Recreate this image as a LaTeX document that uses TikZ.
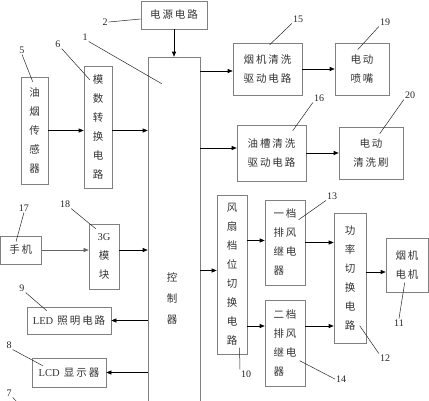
\documentclass[tikz,border=0pt]{standalone}
\usepackage{fontspec}
\setmainfont{Liberation Serif}
\newfontfamily\cjk[LetterSpace=18]{Noto Sans CJK SC}
\usetikzlibrary{arrows.meta}
\newcommand\lat[1]{{\rmfamily #1}}
\tikzset{
	blk/.style={draw=black!50, line width=0.6pt, inner sep=0pt, align=center, text=black!80, font=\cjk\fontsize{10.5}{19}\selectfont},
	num/.style={inner sep=1pt, text=black!85, font=\fontsize{10}{12}\selectfont},
	lead/.style={line width=0.5pt, color=black!85},
	arr/.style={-{Triangle[length=5pt,width=4pt]}, line width=0.6pt, color=black},
	thinarr/.style={-{Triangle[length=5pt,width=4pt]}, line width=0.4pt, color=black!60}
}

\begin{document}
\begin{tikzpicture}[x=1pt, y=-1pt]
			%%%%% START %%%%%
			\useasboundingbox (0, 0) rectangle (429, 400);
			
			% controller and supply
			\node[blk, minimum width=52, minimum height=363] (c1) at (174, 238.5) {};
			\node[blk, draw=none, font=\cjk\fontsize{10.5}{21}\selectfont] (c1t) at (172, 298) {控\\制\\器};
			\node[blk, minimum width=66, minimum height=28] (p2) at (174, 15) {电源电路};
			
			% left side
			\node[blk, minimum width=27, minimum height=107] (s5) at (34.5, 130.5) {油\\烟\\传\\感\\器};
			\node[blk, minimum width=28, minimum height=122] (a6) at (98, 127) {模\\数\\转\\换\\电\\路};
			\node[blk, minimum width=41, minimum height=28] (m17) at (20.8, 250) {手机};
			\node[blk, minimum width=30, minimum height=65] (g18) at (104, 256.5) {\lat{3G}\\模\\块};
			\node[blk, minimum width=84, minimum height=27] (l9) at (69, 320.5) {\lat{LED} 照明电路};
			\node[blk, minimum width=74, minimum height=29] (l8) at (69, 372.5) {\lat{LCD} 显示器};
			
			% right side, top
			\node[blk, minimum width=69, minimum height=52] (d15) at (267.5, 69) {烟机清洗\\驱动电路};
			\node[blk, minimum width=54, minimum height=52] (z19) at (362, 69) {电动\\喷嘴};
			\node[blk, minimum width=69, minimum height=56] (d16) at (271.5, 153) {油槽清洗\\驱动电路};
			\node[blk, minimum width=64, minimum height=52] (b20) at (371, 153) {电动\\清洗刷};
			
			% right side, fan
			\node[blk, minimum width=30, minimum height=159] (f10) at (232, 274.5) {风\\扇\\档\\位\\切\\换\\电\\路};
			\node[blk, align=left, minimum width=40, minimum height=85] (r13) at (285, 242.5) {一档\\排风\\继电\\器};
			\node[blk, align=left, minimum width=40, minimum height=86] (r14) at (285, 343) {二档\\排风\\继电\\器};
			\node[blk, minimum width=32, minimum height=130] (w12) at (350, 278) {功\\率\\切\\换\\电\\路};
			\node[blk, minimum width=42, minimum height=54] (e11) at (407, 265) {烟机\\电机};
			
			% arrows
			\draw[arr] (p2.south) -- (p2.south |- c1.north);
			\draw[arr] (s5.east) -- (s5.east -| a6.west);
			\draw[arr] (s5.east -| a6.east) -- (s5.east -| c1.west);
			\draw[thinarr] (m17.east) -- (m17.east -| g18.west);
			\draw[arr] (m17.east -| g18.east) -- (m17.east -| c1.west);
			\draw[arr] (l9.east -| c1.west) -- (l9.east);
			\draw[arr] (l8.east -| c1.west) -- (l8.east);
			
			\draw[arr] ([yshift=-2pt]d15.west -| c1.east) -- ([yshift=-2pt]d15.west);
			\draw[arr] (d15.east) -- (d15.east -| z19.west);
			\draw[arr] ([yshift=5pt]d16.west -| c1.east) -- ([yshift=5pt]d16.west);
			\draw[arr] (d16.east) -- (d16.east -| b20.west);
			
			\draw[arr] ([yshift=4pt]f10.west -| c1.east) -- ([yshift=4pt]f10.west);
			\draw[arr] ([yshift=2pt]r13.west -| f10.east) -- ([yshift=2pt]r13.west);
			\draw[arr] ([yshift=17pt]r14.west -| f10.east) -- ([yshift=17pt]r14.west);
			\draw[arr] (r13.east) -- (r13.east -| w12.west);
			\draw[arr] ([yshift=17pt]r14.east) -- ([yshift=17pt]r14.east -| w12.west);
			\draw[arr] ([yshift=-7pt]e11.west -| w12.east) -- ([yshift=-7pt]e11.west);
			
			% numbers
			\node[num] (n1) at (85, 37) {1};
			\node[num] (n2) at (105, 22) {2};
			\node[num] (n5) at (22, 50) {5};
			\node[num] (n6) at (58, 44) {6};
			\node[num] (n7) at (9, 393) {7};
			\node[num] (n8) at (9, 345) {8};
			\node[num] (n9) at (22, 288) {9};
			\node[num] (n10) at (246, 374) {10};
			\node[num] (n11) at (399, 323) {11};
			\node[num] (n12) at (385, 358) {12};
			\node[num] (n13) at (332, 196) {13};
			\node[num] (n14) at (341, 379) {14};
			\node[num] (n15) at (298, 19) {15};
			\node[num] (n16) at (319, 98) {16};
			\node[num] (n17) at (24, 208) {17};
			\node[num] (n18) at (65, 204) {18};
			\node[num] (n19) at (385, 22) {19};
			\node[num] (n20) at (410, 95) {20};
			\coordinate (e7) at (19, 404);
			
			% leaders
			\draw[lead] (n1.south east) -- ([shift={(14,27)}]c1.north west);
			\draw[lead] (n2.east) -- ([yshift=-4pt]p2.west);
			\draw[lead] (n5.south) -- ([shift={(12,5)}]s5.north west);
			\draw[lead] (n6.south east) -- ([shift={(6,14)}]a6.north west);
			\draw[lead] (n7.south east) -- (e7);
			\draw[lead] (n8.south east) -- ([shift={(11,8)}]l8.north west);
			\draw[lead] (n9.south east) -- ([shift={(20,4)}]l9.north west);
			\draw[lead] (n10.north west) -- ([shift={(23,153)}]f10.north west);
			\draw[lead] (n11.north) -- ([shift={(19,45)}]e11.north west);
			\draw[lead] (n12.north west) -- ([shift={(26,113)}]w12.north west);
			\draw[lead] (n13.south west) -- ([shift={(34,20)}]r13.north west);
			\draw[lead] (n14.west) -- ([shift={(35,61)}]r14.north west);
			\draw[lead] (n15.south west) -- ([shift={(37,2)}]d15.north west);
			\draw[lead] (n16.south west) -- ([shift={(56,6)}]d16.north west);
			\draw[lead] (n17.south) -- ([shift={(16,6)}]m17.north west);
			\draw[lead] (n18.south east) -- ([shift={(7,5)}]g18.north west);
			\draw[lead] (n19.south west) -- ([shift={(23,7)}]z19.north west);
			\draw[lead] (n20.south west) -- ([shift={(41,7)}]b20.north west);
			
			%%%%% END %%%%%
\end{tikzpicture}
\end{document}
